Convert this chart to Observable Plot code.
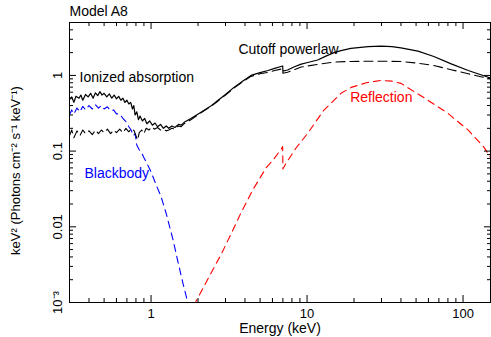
<!DOCTYPE html>
<html><head><meta charset="utf-8">
<script src="https://cdn.jsdelivr.net/npm/d3@7"></script>
<script src="https://cdn.jsdelivr.net/npm/@observablehq/plot@0.6"></script>
<style>body{margin:0;background:#fff;}</style>
</head><body><div id="chart"></div>
<script>
// Total model (solid black)
const totalE = [0.300,0.310,0.320,0.330,0.345,0.355,0.365,0.380,0.395,0.410,0.425,0.440,0.455,0.470,0.485,0.500,0.520,0.540,0.560,0.580,0.600,0.620,0.640,0.660,0.680,0.700,0.720,0.740,0.760,0.775,0.790,0.810,0.830,0.850,0.880,0.910,0.940,0.980,1.020,1.060,1.100,1.150,1.200,1.250,1.300,1.360,1.420,1.500,1.560,1.630,1.800,2.090,2.400,2.690,3.000,3.400,3.900,4.370,5.000,5.620,6.200,6.800,6.980,7.000,7.500,8.300,9.170,10.10,11.70,13.20,14.90,16.50,19.10,24.60,29.80,35.00,40.00,51.40,65.00,84.00,108.0,130.0,150.0];
const totalV = [0.48,0.52,0.44,0.53,0.50,0.55,0.47,0.56,0.52,0.58,0.50,0.59,0.54,0.61,0.55,0.58,0.52,0.57,0.50,0.55,0.49,0.53,0.47,0.50,0.44,0.47,0.42,0.44,0.36,0.40,0.30,0.33,0.26,0.29,0.25,0.27,0.23,0.25,0.22,0.235,0.21,0.225,0.20,0.215,0.20,0.215,0.205,0.225,0.22,0.24,0.27,0.326,0.39,0.47,0.56,0.695,0.85,1.00,1.09,1.16,1.24,1.31,1.33,1.14,1.18,1.30,1.41,1.48,1.60,1.80,2.00,2.13,2.28,2.40,2.43,2.40,2.31,2.09,1.78,1.42,1.16,1.02,0.92];
// Absorbed cutoff powerlaw (dashed black)
const cutoffE = [0.300,0.310,0.320,0.335,0.350,0.365,0.380,0.400,0.420,0.440,0.460,0.480,0.500,0.525,0.550,0.575,0.600,0.630,0.660,0.690,0.720,0.750,0.780,0.800,0.820,0.840,0.870,0.900,0.930,0.970,1.010,1.050,1.100,1.150,1.200,1.250,1.300,1.360,1.420,1.500,1.560,1.630,1.800,2.090,2.400,2.690,3.000,3.400,3.900,4.370,5.000,5.620,6.200,6.800,6.980,7.000,7.500,9.170,11.70,14.90,19.10,24.60,30.00,40.00,51.40,65.00,84.00,108.0,130.0,150.0];
const cutoffV = [0.16,0.19,0.15,0.185,0.16,0.19,0.17,0.185,0.165,0.19,0.17,0.19,0.175,0.195,0.17,0.19,0.175,0.195,0.175,0.20,0.18,0.20,0.185,0.16,0.14,0.175,0.19,0.17,0.20,0.19,0.21,0.195,0.205,0.19,0.195,0.185,0.19,0.20,0.195,0.215,0.21,0.23,0.26,0.32,0.385,0.46,0.55,0.68,0.83,0.97,1.05,1.10,1.16,1.21,1.23,1.07,1.10,1.29,1.40,1.50,1.53,1.54,1.54,1.53,1.45,1.35,1.19,1.05,0.96,0.90];
// Blackbody (dashed blue)
const bbE = [0.300,0.310,0.320,0.335,0.350,0.365,0.380,0.400,0.420,0.440,0.460,0.480,0.500,0.525,0.550,0.575,0.600,0.630,0.660,0.690,0.720,0.745,0.770,0.790,0.810,0.838,0.870,0.902,0.950,1.000,1.077,1.159,1.248,1.384,1.490,1.600,1.700,1.760];
const bbV = [0.30,0.35,0.31,0.37,0.33,0.39,0.35,0.40,0.36,0.41,0.37,0.40,0.36,0.385,0.34,0.35,0.31,0.31,0.27,0.245,0.21,0.19,0.16,0.17,0.12,0.105,0.095,0.081,0.066,0.053,0.036,0.025,0.0152,0.0067,0.0034,0.0018,0.0011,0.0008];
// Reflection (dashed red)
const reflE = [1.90,1.94,2.30,2.81,3.30,3.77,4.50,5.46,6.05,6.80,6.98,7.00,7.33,8.50,10.1,12.8,16.5,19.2,24.0,29.8,35.0,40.0,56.0,80.0,108.0,136.0,150.0];
const reflV = [0.0009,0.00103,0.0020,0.0043,0.0085,0.0153,0.031,0.060,0.076,0.105,0.115,0.058,0.069,0.11,0.172,0.346,0.58,0.695,0.80,0.86,0.84,0.785,0.51,0.316,0.189,0.113,0.083];

const xMajor = [1, 10, 100];
const xMajorLabels = ["1", "10", "100"];
const xMinor = [0.3,0.4,0.5,0.6,0.7,0.8,0.9,2,3,4,5,6,7,8,9,20,30,40,50,60,70,80,90];
const yMajor = [0.001, 0.01, 0.1, 1];
const yMajorLabels = ["10\u207B\u00B3", "0.01", "0.1", "1"];
const yMinor = [0.002,0.003,0.004,0.005,0.006,0.007,0.008,0.009,0.02,0.03,0.04,0.05,0.06,0.07,0.08,0.09,0.2,0.3,0.4,0.5,0.6,0.7,0.8,0.9,2,3,4,5];

const labelText = ["Ionized absorption", "Cutoff powerlaw", "Reflection", "Blackbody"];
const labelE = [0.348, 3.63, 18.9, 0.374];
const labelV = [0.94, 2.2, 0.513, 0.051];
const labelColor = ["black", "black", "red", "blue"];

const zip = (E, V) => E.map((e, i) => ({E: e, v: V[i]}));
const total = zip(totalE, totalV);
const cutoff = zip(cutoffE, cutoffV);
const bb = zip(bbE, bbV);
const refl = zip(reflE, reflV);
const labels = labelText.map((t, i) => ({t, E: labelE[i], v: labelV[i], c: labelColor[i]}));

// inward ticks: draw an outward tick of length L and shift it inside the frame
const inTicksX = (anchor, ticks, L) => Plot.axisX({anchor, ticks, tickSize: L, dy: anchor === "bottom" ? -L : L - 1, fill: "none", stroke: "black"});
const inTicksY = (anchor, ticks, L) => Plot.axisY({anchor, ticks, tickSize: L, dx: anchor === "left" ? L : -L, fill: "none", stroke: "black"});

const font = "Liberation Sans, Arial, Helvetica, sans-serif";
const chart = Plot.plot({
  width: 491, height: 337,
  marginLeft: 69, marginRight: 1, marginTop: 22, marginBottom: 35,
  style: {fontFamily: font, fontSize: "14px", background: "white", color: "black"},
  x: {type: "log", domain: [0.3, 150], label: null},
  y: {type: "log", domain: [0.001, 5], label: null},
  marks: [
    Plot.line(refl, {x: "E", y: "v", stroke: "red", strokeWidth: 1.1, strokeDasharray: "7,5", clip: true}),
    Plot.line(bb, {x: "E", y: "v", stroke: "blue", strokeWidth: 1.1, strokeDasharray: "7,5", clip: true}),
    Plot.line(cutoff, {x: "E", y: "v", stroke: "black", strokeWidth: 1.1, strokeDasharray: "9,5", clip: true}),
    Plot.line(total, {x: "E", y: "v", stroke: "black", strokeWidth: 1.2, clip: true}),
    Plot.frame({stroke: "black"}),
    inTicksX("bottom", xMajor, 7), inTicksX("bottom", xMinor, 4),
    inTicksX("top", xMajor, 7), inTicksX("top", xMinor, 4),
    inTicksY("left", yMajor, 7), inTicksY("left", yMinor, 4),
    inTicksY("right", yMajor, 7), inTicksY("right", yMinor, 4),
    Plot.text(xMajor, {x: d => d, text: xMajorLabels, frameAnchor: "bottom", dy: 11, lineAnchor: "middle", fontSize: 13}),
    Plot.text(yMajor, {y: d => d, text: yMajorLabels, frameAnchor: "left", dx: -12, rotate: -90, textAnchor: "middle", lineAnchor: "middle", fontSize: 13}),
    Plot.text(["Energy (keV)"], {frameAnchor: "bottom", dy: 26, lineAnchor: "middle", fontSize: 14}),
    Plot.text(["keV\u00B2 (Photons cm\u207B\u00B2 s\u207B\u00B9 keV\u207B\u00B9)"], {frameAnchor: "left", dx: -54, dy: 8, rotate: -90, textAnchor: "middle", lineAnchor: "middle", fontSize: 13}),
    Plot.text(["Model A8"], {frameAnchor: "top-left", dy: -11, textAnchor: "start", lineAnchor: "middle", fontSize: 14}),
    Plot.text(labels, {x: "E", y: "v", text: "t", fill: "c", textAnchor: "start", lineAnchor: "middle", fontSize: 14})
  ]
});
document.getElementById("chart").appendChild(chart);
</script>
</body></html>
